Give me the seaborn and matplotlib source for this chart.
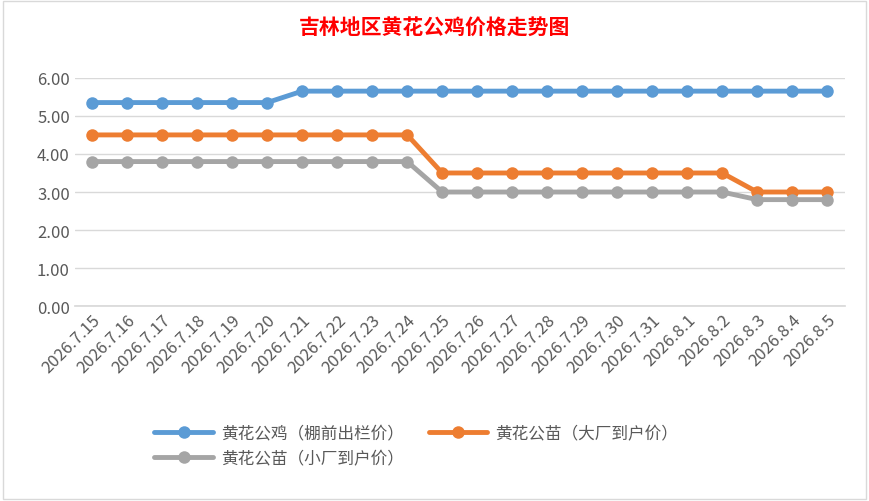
import matplotlib.pyplot as plt
import seaborn as sns
import pandas as pd

dates = ['2026.7.15', '2026.7.16', '2026.7.17', '2026.7.18', '2026.7.19', '2026.7.20', '2026.7.21',
         '2026.7.22', '2026.7.23', '2026.7.24', '2026.7.25', '2026.7.26', '2026.7.27', '2026.7.28',
         '2026.7.29', '2026.7.30', '2026.7.31', '2026.8.1', '2026.8.2', '2026.8.3', '2026.8.4', '2026.8.5']
rooster = [5.35] * 6 + [5.65] * 16
chick_big = [4.5] * 10 + [3.5] * 9 + [3.0] * 3
chick_small = [3.8] * 10 + [3.0] * 9 + [2.8] * 3
names = ['黄花公鸡（棚前出栏价）', '黄花公苗（大厂到户价）', '黄花公苗（小厂到户价）']
colors = ['#5B9BD5', '#ED7D31', '#A5A5A5']

sns.set_theme(style='white')
plt.rcParams['font.family'] = ['Noto Sans CJK SC', 'DejaVu Sans']

df = pd.DataFrame({'date': dates * 3,
                   'price': rooster + chick_big + chick_small,
                   'series': sum([[n] * len(dates) for n in names], [])})

fig = plt.figure(figsize=(8.69, 5.02), dpi=100)
ax = fig.add_axes([0.086, 0.388, 0.886, 0.455])
sns.lineplot(data=df, x='date', y='price', hue='series', palette=colors, marker='o',
             markersize=9, linewidth=3.5, markeredgewidth=0, sort=False, ax=ax)
ax.set_xlim(-0.5, len(dates) - 0.5)
ax.set_ylim(0, 6)
ax.set_yticks([0, 1, 2, 3, 4, 5, 6])
ax.set_yticklabels([f'{v:.2f}' for v in range(7)], fontsize=12, color='#595959')
ax.tick_params(axis='x', labelrotation=45, labelsize=12, colors='#595959', length=0)
ax.tick_params(axis='y', length=0)
for lbl in ax.get_xticklabels():
    lbl.set_ha('right')
    lbl.set_rotation_mode('anchor')
ax.grid(axis='y', color='#D9D9D9', linewidth=1)
for s in ['top', 'right', 'left']:
    ax.spines[s].set_visible(False)
ax.spines['bottom'].set_color('#D9D9D9')
ax.set_xlabel('')
ax.set_ylabel('')
handles, labels = ax.get_legend_handles_labels()
ax.get_legend().remove()
order = [0, 2, 1]
fig.legend([handles[i] for i in order], [labels[i] for i in order], ncol=2, loc='upper left',
           bbox_to_anchor=(0.17, 0.165), frameon=False, fontsize=12, handlelength=3.5,
           columnspacing=1.5, labelcolor='#595959', borderaxespad=0, handletextpad=0.5)
fig.text(0.5, 0.93, '吉林地区黄花公鸡价格走势图', ha='center', color='#FF0000',
         fontsize=15, fontweight='bold')
fig.add_artist(plt.Rectangle((0.003, 0.003), 0.994, 0.994, transform=fig.transFigure,
                             fill=False, edgecolor='#D9D9D9', linewidth=1))
fig.savefig('out.png', dpi=100)
